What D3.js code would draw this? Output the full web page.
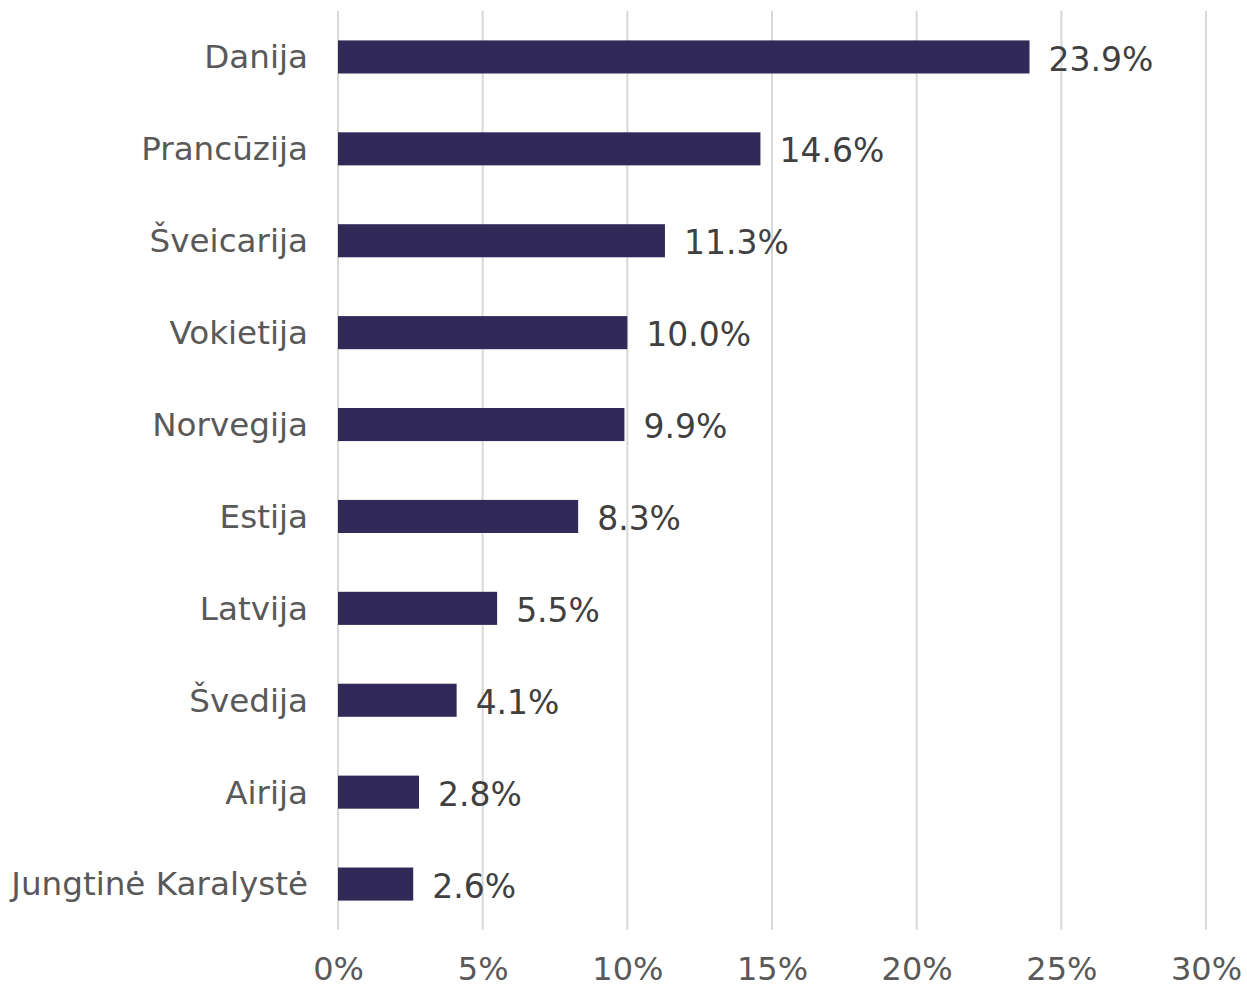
<!DOCTYPE html>
<html>
<head>
<meta charset="utf-8">
<script src="https://cdn.jsdelivr.net/npm/d3@7"></script>
<style>
  body { margin: 0; background: #fff; }
  svg { font-family: "DejaVu Sans", Verdana, sans-serif; }
</style>
</head>
<body>
<div class="box"></div>
<script>
// data
const countries = ['Danija', 'Prancūzija', 'Šveicarija', 'Vokietija', 'Norvegija',
                   'Estija', 'Latvija', 'Švedija', 'Airija', 'Jungtinė Karalystė'];
const shares = [23.9, 14.6, 11.3, 10.0, 9.9, 8.3, 5.5, 4.1, 2.8, 2.6];
const ticks = [0, 5, 10, 15, 20, 25, 30];

const width = 1247, height = 990;

const svg = d3.select('.box')
              .append('svg')
              .attr('width', width)
              .attr('height', height);

// plot area
const x = d3.scaleLinear()
            .domain([0, 30])
            .range([338, 1206]);

const y = d3.scaleBand()
            .domain(countries)
            .range([11, 930])
            .paddingInner(0.64)
            .paddingOuter(0.32);

// vertical gridlines
svg.append('g')
   .selectAll('line')
   .data(ticks)
   .join('line')
   .attr('x1', d => x(d))
   .attr('x2', d => x(d))
   .attr('y1', 11)
   .attr('y2', 930)
   .attr('stroke', '#d9d9d9')
   .attr('stroke-width', 2);

// x axis labels
const axeX = d3.axisBottom(x)
               .tickValues(ticks)
               .tickFormat(d => d + '%')
               .tickSize(0)
               .tickPadding(0);

svg.append('g')
   .attr('transform', 'translate(0, 957)')
   .call(axeX)
   .call(g => g.select('.domain').remove())
   .call(g => g.selectAll('text')
               .attr('fill', '#595959')
               .style('font-size', '32px')
               .style('font-family', '"DejaVu Sans", Verdana, sans-serif'));

// category labels
const axeY = d3.axisLeft(y).tickSize(0).tickPadding(30);
svg.append('g')
   .attr('transform', `translate(${x(0)}, 0)`)
   .call(axeY)
   .call(g => g.select('.domain').remove())
   .call(g => g.selectAll('text')
               .attr('fill', '#595959')
               .attr('dy', '0.35em')
               .style('font-size', '32.6px')
               .style('font-family', '"DejaVu Sans", Verdana, sans-serif'));

// bars
svg.append('g')
   .selectAll('rect')
   .data(countries)
   .join('rect')
   .attr('x', x(0))
   .attr('y', d => y(d))
   .attr('width', (d, i) => x(shares[i]) - x(0))
   .attr('height', y.bandwidth())
   .attr('fill', '#312a58');

// value labels
svg.append('g')
   .selectAll('text')
   .data(countries)
   .join('text')
   .attr('x', (d, i) => x(shares[i]) + 19)
   .attr('y', d => y(d) + y.bandwidth() / 2 + 2)
   .attr('dy', '0.35em')
   .attr('fill', '#404040')
   .style('font-size', '33px')
   .text((d, i) => shares[i].toFixed(1) + '%');
</script>
</body>
</html>
